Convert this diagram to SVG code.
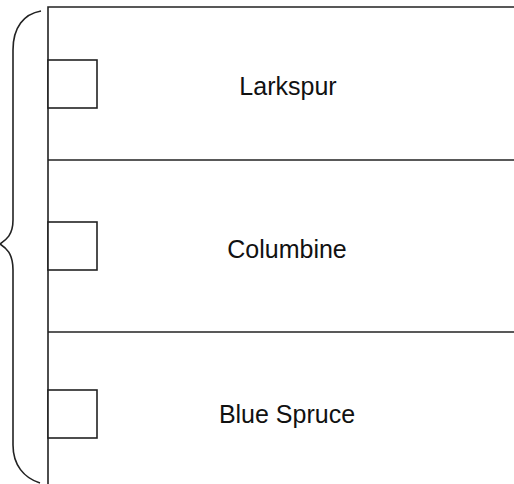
<svg xmlns="http://www.w3.org/2000/svg" width="514" height="484" viewBox="0 0 514 484">
<style>
.ln{fill:none;stroke:#222;stroke-width:1.6}
.bx{fill:#fff;stroke:#222;stroke-width:1.6}
.t{font-family:"Liberation Sans",Arial,sans-serif;font-size:25px;fill:#111;text-anchor:middle}
</style>
<rect width="514" height="484" fill="#fff"/>
<g id="connectors">
<path class="ln" d="M48,484 V7 H514"/>
<path class="ln" d="M48,160 H514"/>
<path class="ln" d="M48,332 H514"/>
<path id="brace" class="ln" d="M41,11 C24,14 13,27 13,50 V220 C13,235 6,240 0,244 C6,248 13,253 13,270 V445 C13,465 24,478 40,483"/>
</g>
<g id="n1"><rect class="bx" x="48" y="60" width="49" height="48"/><text class="t" x="288" y="95">Larkspur</text></g>
<g id="n2"><rect class="bx" x="48" y="222" width="49" height="48"/><text class="t" x="287" y="258">Columbine</text></g>
<g id="n3"><rect class="bx" x="48" y="390" width="49" height="48"/><text class="t" x="287" y="423">Blue Spruce</text></g>
</svg>
